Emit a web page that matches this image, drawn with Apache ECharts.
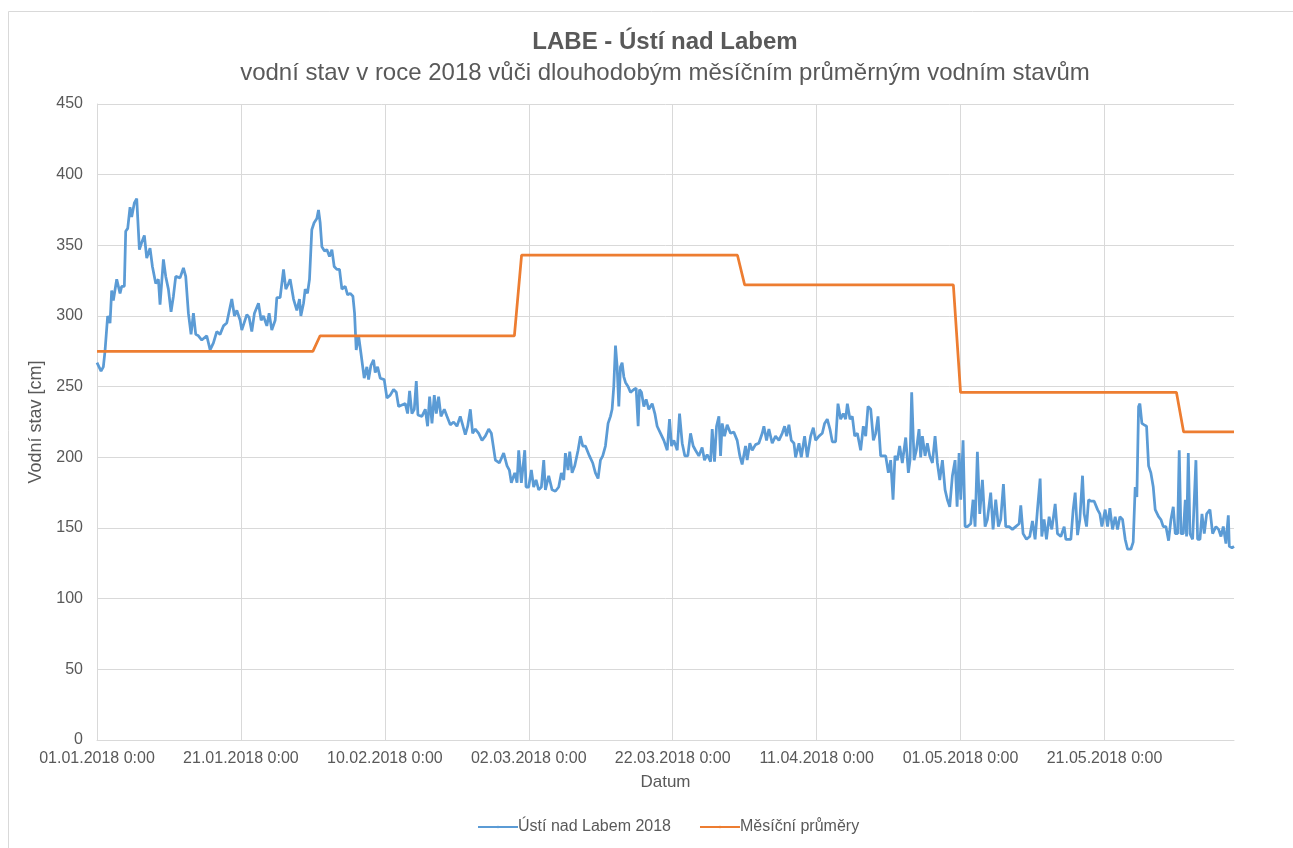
<!DOCTYPE html>
<html>
<head>
<meta charset="utf-8">
<title>LABE - Ústí nad Labem</title>
<script src="https://cdn.jsdelivr.net/npm/echarts@6/dist/echarts.min.js"></script>
<style>
  html, body { margin: 0; padding: 0; background: #fff; }
  #chart { width: 1293px; height: 848px; }
</style>
</head>
<body>
<div id="chart"></div>
<script>
// čas = dny od 01.01.2018 0:00
const dny = [
  0, 0.56, 0.88, 1.11, 1.48, 1.81, 2.04, 2.27, 2.74, 3.20, 3.43, 3.80, 3.99, 4.27, 4.59, 4.82,
  5.19, 5.52, 5.89, 6.21, 6.58, 6.91, 7.37, 7.70, 8.16, 8.53, 8.76, 9.23, 9.55, 9.92, 10.29,
  10.62, 10.94, 11.54, 12.01, 12.33, 12.70, 13.07, 13.40, 13.72, 14.09, 14.56, 15.25, 15.72,
  16.18, 16.64, 17.10, 17.57, 18.03, 18.73, 19.10, 19.43, 19.89, 20.12, 20.82, 21.14, 21.51,
  21.88, 22.44, 22.81, 23.13, 23.60, 23.92, 24.29, 24.76, 24.99, 25.45, 25.92, 26.24, 26.61,
  26.84, 27.31, 27.77, 28.14, 28.33, 28.70, 28.93, 29.25, 29.53, 29.85, 30.17, 30.55, 30.78,
  31.01, 31.25, 31.62, 31.94, 32.31, 32.64, 32.96, 33.33, 33.70, 34.03, 34.49, 34.82, 35.19,
  35.56, 35.79, 36.02, 36.35, 36.67, 37.13, 37.50, 37.74, 38.06, 38.43, 38.66, 38.99, 39.36,
  39.91, 40.29, 40.75, 41.21, 41.59, 41.91, 42.37, 42.84, 43.16, 43.44, 43.76, 44.09, 44.37,
  44.60, 45.15, 45.62, 45.94, 46.22, 46.55, 46.87, 47.15, 47.47, 47.80, 48.26, 48.63, 49.09,
  49.56, 50.02, 50.48, 50.86, 51.18, 51.51, 51.88, 52.20, 52.57, 53.04, 53.50, 53.96, 54.43,
  54.80, 55.36, 55.91, 56.51, 56.98, 57.30, 57.58, 58.05, 58.37, 58.60, 58.97, 59.44, 59.62,
  59.99, 60.36, 60.68, 61.01, 61.38, 61.75, 62.08, 62.31, 62.77, 63.24, 63.70, 64.16, 64.53,
  64.86, 65.09, 65.46, 65.69, 66.02, 66.39, 66.85, 67.18, 67.50, 67.87, 68.43, 68.89, 69.26,
  69.63, 69.96, 70.28, 70.65, 71.02, 71.35, 71.58, 71.81, 72.05, 72.28, 72.51, 72.74, 72.97,
  73.21, 73.44, 73.81, 74.13, 74.60, 74.92, 75.20, 75.39, 75.66, 75.99, 76.31, 76.68, 77.15,
  77.52, 77.84, 78.31, 78.77, 79.24, 79.56, 79.84, 80.16, 80.63, 80.95, 81.32, 81.69,
  82.10, 82.48, 82.85, 83.17, 83.63, 84.09, 84.42, 84.79, 85.26, 85.49, 85.81, 86.09, 86.42,
  86.65, 86.88, 87.20, 87.57, 88.03, 88.49, 88.96, 89.33, 89.65, 90.12, 90.35, 90.72, 91.05,
  91.51, 91.97, 92.44, 92.67, 93.04, 93.37, 93.83, 94.29, 94.76, 95.22, 95.55, 95.83, 96.15,
  96.48, 96.85, 97.08, 97.55, 97.87, 98.33, 98.70, 99.17, 99.54, 99.86, 100.33, 100.79,
  101.11, 101.48, 101.85, 102.18, 102.64, 102.97, 103.34, 103.71, 104.03, 104.27, 104.64,
  104.96, 105.29, 105.66, 106.12, 106.49, 106.82, 107.14, 107.52, 107.89, 108.21, 108.53,
  108.90, 109.23, 109.60, 109.97, 110.29, 110.62, 110.89, 111.22, 111.54, 111.91, 112.38,
  112.75, 112.98, 113.21, 113.54, 113.86, 114.23, 114.46, 114.70, 115.07, 115.39, 115.72,
  116.09, 116.46, 116.78, 117.11, 117.48, 117.85, 118.17, 118.50, 118.87, 119.24, 119.52,
  119.80, 120.03, 120.35, 120.63, 120.95, 121.42, 121.74, 122.02, 122.34, 122.67, 123.04,
  123.41, 123.73, 124.19, 124.52, 124.89, 125.26, 125.58, 125.96, 126.28, 126.74, 127.21,
  127.67, 128.14, 128.37, 128.69, 129.16, 129.62, 129.99, 130.36, 130.69, 131.06, 131.29,
  131.61, 131.94, 132.31, 132.68, 133.15, 133.47, 133.94, 134.40, 134.63, 135.33, 135.65,
  135.93, 136.26, 136.58, 136.95, 137.18, 137.51, 137.79, 138.11, 138.57, 139.04, 139.36,
  139.64, 140.10, 140.43, 140.75, 141.12, 141.49, 141.82, 142.14, 142.51, 142.88, 143.21,
  143.67, 143.99, 144.27, 144.50, 144.74, 144.92, 145.20, 145.52, 145.85, 146.13, 146.45,
  146.78, 147.05, 147.52, 147.84, 148.17, 148.54, 148.91, 149.24, 149.56, 149.84, 150.16,
  150.39, 150.63, 150.95, 151.23, 151.41, 151.65, 151.88, 152.25, 152.48, 152.71, 152.94,
  153.27, 153.55, 153.87, 154.20, 154.66, 155.03, 155.49, 155.86, 156.19, 156.51, 156.88,
  157.21, 157.35, 157.72, 158
];
const stav = [
  267, 261, 264, 275, 300, 295, 318, 311, 326, 316, 321, 321, 360, 362, 377, 370,
  380, 383, 347, 352, 357, 341, 348, 335, 323, 326, 308, 340, 328, 319, 303,
  314, 328, 327, 334, 328, 302, 287, 302, 287, 286, 283, 286, 276,
  281, 289, 287, 293, 295, 312, 300, 304, 297, 290, 301, 299, 289,
  302, 309, 297, 300, 293, 302, 290, 297, 313, 313, 333, 319, 323,
  326, 312, 304, 312, 300, 309, 319, 316, 326, 361, 366, 369, 375,
  366, 349, 346, 347, 342, 347, 335, 333, 333, 319, 321, 315, 316,
  314, 302, 276, 286, 274, 256, 264, 255, 265, 269, 260, 264, 256,
  255, 242, 244, 248, 246, 236, 237, 238, 231, 247, 231, 234, 254,
  230, 229, 234, 222, 243, 224, 244, 231, 243, 229, 234, 229, 223,
  225, 222, 229, 222, 216, 222, 234, 217, 220, 217, 212, 215, 220,
  217, 198, 196, 203, 194, 191, 182, 189, 182, 205, 182, 205, 179,
  179, 191, 179, 184, 177, 179, 198, 177, 187, 177, 176, 179, 189,
  184, 203, 191, 204, 189, 194, 205, 215, 208, 208, 201, 196, 189,
  185, 198, 201, 208, 224, 229, 234, 250, 279, 264, 236, 264, 267,
  257, 253, 250, 246, 248, 249, 222, 248, 246, 236, 241, 234, 238,
  231, 222, 217, 212, 205, 227, 208, 212, 205, 231, 210, 201,
  201, 217, 208, 205, 201, 207, 198, 202, 197, 220, 197, 222, 229,
  201, 224, 215, 223, 217, 218, 212, 201, 195, 208, 198, 210, 205,
  209, 210, 217, 222, 212, 220, 210, 215, 212, 217, 222, 215, 223,
  212, 210, 200, 210, 200, 215, 200, 215, 221, 212, 215, 217,
  224, 227, 220, 211, 211, 238, 227, 231, 227, 238, 227,
  229, 215, 217, 205, 222, 215, 236, 234, 212, 217, 229,
  201, 201, 201, 189, 198, 170, 201, 198, 208, 196, 214,
  189, 198, 246, 198, 205, 220, 200, 215, 201, 210, 201,
  196, 215, 196, 184, 198, 177, 170, 165, 187, 198, 165,
  203, 170, 212, 151, 151, 153, 170, 151, 204, 160, 184,
  151, 156, 175, 149, 170, 151, 156, 181, 151, 151, 149,
  151, 153, 166, 146, 142, 144, 155, 142, 163, 185, 144,
  156, 142, 158, 149, 167, 146, 144, 151, 142, 142, 163,
  175, 145, 156, 187, 160, 151, 170, 169, 169, 163, 160,
  151, 163, 151, 164, 149, 158, 149, 158, 156, 142, 135,
  135, 140, 179, 172, 236, 238, 224, 223, 222, 194, 189,
  179, 163, 158, 156, 151, 151, 141, 156, 165, 146, 146,
  205, 146, 146, 170, 144, 203, 146, 142, 170, 198, 142,
  142, 160, 146, 160, 163, 146, 151, 149, 144, 151, 139,
  159, 137, 136, 137
];

// dlouhodobé měsíční průměry (leden až červen)
const mesicZacatek = [0, 31, 59, 90, 120, 151];
const prumery = [275, 286, 343, 322, 246, 218];
const konecDat = 158;

const nazevStanice = 'Ústí nad Labem 2018';
const nazevPrumery = 'Měsíční průměry';

const barvaText = '#595959';
const font = '"Liberation Sans", Arial, sans-serif';

function datumLabel(den) {
  const d = new Date(Date.UTC(2018, 0, 1) + den * 86400000);
  const dd = String(d.getUTCDate()).padStart(2, '0');
  const mm = String(d.getUTCMonth() + 1).padStart(2, '0');
  return dd + '.' + mm + '.' + d.getUTCFullYear() + ' 0:00';
}

const modra = dny.map((d, i) => [d, stav[i]]);

// průměr drží celý měsíc, poslední den se přejde na další měsíc
const oranzova = [];
prumery.forEach((v, i) => {
  const konec = i < prumery.length - 1 ? mesicZacatek[i + 1] - 1 : konecDat;
  oranzova.push([mesicZacatek[i], v]);
  oranzova.push([konec, v]);
});

const chart = echarts.init(document.getElementById('chart'));

chart.setOption({
  backgroundColor: '#fff',
  animation: false,
  textStyle: { fontFamily: font },
  graphic: [{
    type: 'rect',
    shape: { x: 8.5, y: 11.5, width: 1400, height: 1000 },
    style: { fill: 'none', stroke: '#d9d9d9', lineWidth: 1 },
    silent: true
  }],
  title: [{
    text: 'LABE - Ústí nad Labem',
    left: 660,
    top: 25,
    textAlign: 'center',
    textStyle: { fontFamily: font, fontSize: 24, fontWeight: 'bold', color: barvaText }
  }, {
    text: 'vodní stav v roce 2018 vůči dlouhodobým měsíčním průměrným vodním stavům',
    left: 660,
    top: 56,
    textAlign: 'center',
    textStyle: { fontFamily: font, fontSize: 24, fontWeight: 'normal', color: barvaText }
  }],
  legend: {
    bottom: 8,
    left: 472,
    itemWidth: 40,
    itemHeight: 3,
    itemGap: 28,
    textStyle: { fontFamily: font, fontSize: 16, color: barvaText, padding: [0, 0, 0, -5] },
    data: [nazevStanice, nazevPrumery]
  },
  grid: { left: 97, right: 59, top: 104, bottom: 108 },
  xAxis: {
    type: 'value',
    min: 0,
    max: konecDat,
    interval: 20,
    name: 'Datum',
    nameLocation: 'middle',
    nameGap: 34,
    nameTextStyle: { fontFamily: font, fontSize: 17, color: barvaText },
    axisLine: { show: true, lineStyle: { color: '#d9d9d9' } },
    axisTick: { show: false },
    axisLabel: {
      fontFamily: font, fontSize: 16, color: barvaText, margin: 11,
      showMaxLabel: false,
      formatter: v => (v % 20 === 0 ? datumLabel(v) : '')
    },
    splitLine: { show: true, showMaxLine: false, lineStyle: { color: '#d9d9d9' } }
  },
  yAxis: {
    type: 'value',
    min: 0,
    max: 450,
    interval: 50,
    name: 'Vodní stav [cm]',
    nameLocation: 'middle',
    nameGap: 46,
    nameTextStyle: { fontFamily: font, fontSize: 18, color: barvaText },
    axisLine: { show: true, lineStyle: { color: '#d9d9d9' } },
    axisTick: { show: false },
    axisLabel: { fontFamily: font, fontSize: 16, color: barvaText, margin: 14 },
    splitLine: { lineStyle: { color: '#d9d9d9' } }
  },
  series: [{
    name: nazevStanice,
    type: 'line',
    data: modra,
    symbol: 'none',
    lineStyle: { color: '#5b9bd5', width: 2.75 },
    itemStyle: { color: '#5b9bd5' }
  }, {
    name: nazevPrumery,
    type: 'line',
    data: oranzova,
    symbol: 'none',
    lineStyle: { color: '#ed7d31', width: 2.75 },
    itemStyle: { color: '#ed7d31' }
  }]
});
</script>
</body>
</html>
